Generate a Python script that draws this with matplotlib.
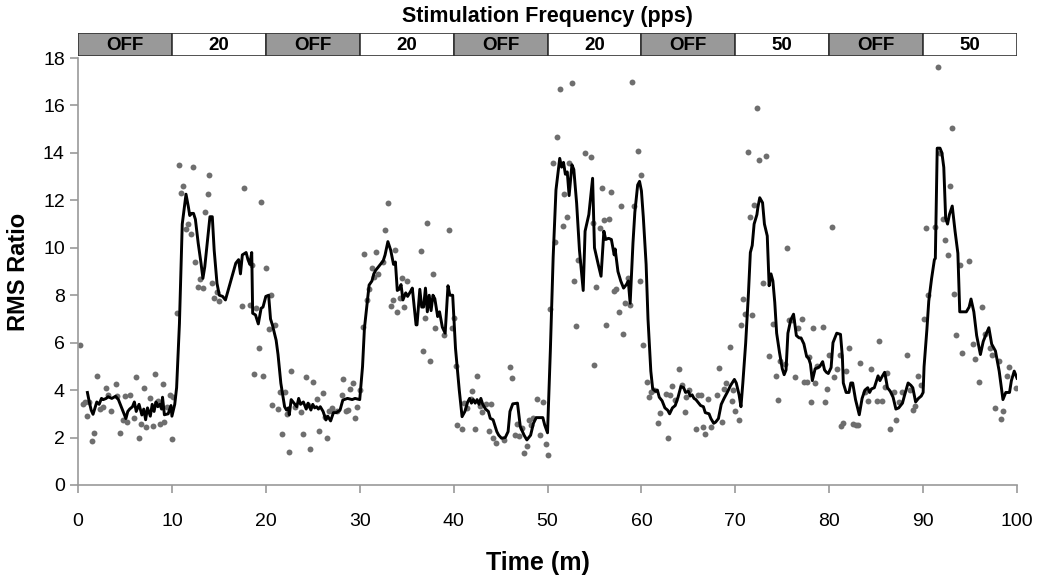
import numpy as np
import matplotlib
matplotlib.use("Agg")
import matplotlib.pyplot as plt
from matplotlib.patches import Rectangle

plt.rcParams['font.family'] = ['Liberation Sans Narrow', 'Liberation Sans', 'DejaVu Sans']

# stimulation blocks (10 min each)
block_labels = ["OFF", "20", "OFF", "20", "OFF", "20", "OFF", "50", "OFF", "50"]
block_starts = [0, 10, 20, 30, 40, 50, 60, 70, 80, 90]

# raw RMS ratio samples (gray dots)
dot_t = [0.2, 0.5, 0.75, 1.0, 1.2, 1.5, 1.7, 2.0, 2.3, 2.7, 3.0, 3.2, 3.5, 4.0, 4.2, 4.5, 4.8,
         5.0, 5.2, 5.5, 6.0, 6.2, 6.5, 6.7, 7.0, 7.2, 7.7, 8.0, 8.2, 8.5, 8.7, 9.0, 9.2, 9.5,
         9.8, 10.0, 10.1, 10.5, 10.75, 11.0, 11.2, 11.5, 11.75, 12.0, 12.2, 12.5, 12.75, 13.0,
         13.3, 13.5, 13.8, 14.0, 14.3, 14.5, 14.8, 15.0, 17.5, 17.7, 18.3, 18.5, 18.7, 19.0,
         19.3, 19.5, 19.7, 20.0, 20.3, 20.6, 20.7, 21.0, 21.3, 21.5, 21.75, 22.0, 22.3, 22.5,
         22.7, 23.1, 23.7, 24.0, 24.3, 24.5, 24.7, 25.0, 25.5, 25.7, 26.1, 26.3, 26.5, 26.7,
         27.0, 27.1, 27.6, 28.1, 28.25, 28.5, 28.8, 29.0, 29.25, 29.5, 29.75, 30.0, 30.3, 30.5,
         30.75, 31.0, 31.3, 31.5, 31.7, 32.0, 32.5, 32.7, 33.0, 33.3, 33.5, 33.75, 34.0, 34.3,
         34.5, 34.7, 35.0, 36.5, 36.7, 37.0, 37.2, 37.5, 37.8, 38.05, 39.0, 39.5, 39.8, 40.0,
         40.3, 40.4, 40.9, 41.1, 41.4, 41.8, 42.0, 42.3, 42.5, 42.8, 43.0, 43.5, 43.8, 44.0,
         44.2, 44.5, 45.4, 46.0, 46.25, 46.5, 46.8, 47.0, 47.25, 47.5, 47.8, 48.0, 48.2, 48.5,
         48.9, 49.2, 49.5, 49.8, 50.0, 50.3, 50.6, 50.8, 51.0, 51.3, 51.6, 51.8, 52.1, 52.3,
         52.6, 52.8, 53.0, 53.2, 54.0, 54.6, 54.8, 55.0, 55.2, 55.6, 55.8, 56.0, 56.2, 56.6,
         56.8, 57.1, 57.3, 57.6, 57.8, 58.0, 58.25, 58.6, 58.8, 59.0, 59.2, 59.6, 59.8, 60.0,
         60.2, 60.6, 60.8, 61.0, 61.3, 61.8, 62.0, 62.6, 62.8, 63.0, 63.3, 63.6, 64.0, 64.3,
         64.6, 64.8, 65.1, 65.8, 66.0, 66.3, 66.6, 66.8, 67.1, 67.4, 68.0, 68.3, 68.6, 68.8,
         69.0, 69.4, 69.6, 69.8, 70.0, 70.4, 70.6, 70.8, 71.0, 71.3, 71.6, 71.8, 72.0, 72.3,
         72.5, 73.0, 73.3, 73.6, 74.0, 74.3, 74.5, 74.8, 75.3, 75.5, 75.7, 76.0, 76.4, 76.7,
         77.1, 77.3, 77.6, 77.8, 78.1, 78.3, 78.5, 78.7, 79.3, 79.6, 79.8, 80.0, 80.3, 80.5,
         80.8, 81.1, 81.3, 81.5, 81.8, 82.1, 82.5, 82.8, 83.1, 83.3, 83.8, 84.1, 84.5, 85.1,
         85.3, 85.6, 85.9, 86.2, 86.5, 86.9, 87.1, 87.4, 87.8, 88.3, 88.6, 88.9, 89.1, 89.5,
         89.8, 90.1, 90.3, 90.5, 91.3, 91.55, 91.8, 92.1, 92.3, 92.6, 92.9, 93.1, 93.3, 93.5,
         93.9, 94.1, 94.9, 95.3, 95.5, 95.9, 96.3, 96.6, 97.1, 97.3, 97.7, 98.05, 98.3, 98.5,
         98.9, 99.1, 99.9]
dot_v = [5.9, 3.4, 3.5, 2.9, 3.5, 1.87, 2.2, 4.6, 3.2, 3.3, 4.1, 3.8, 3.1, 4.25, 3.77, 2.18, 2.74,
         3.77, 2.67, 3.8, 2.84, 4.54, 2.0, 2.57, 4.1, 2.43, 3.67, 2.5, 4.68, 3.53, 2.57, 4.25, 2.67, 3.3,
         3.8, 1.95, 3.7, 7.27, 13.5, 12.3, 12.6, 10.8, 11.0, 10.6, 13.4, 9.4, 8.36, 8.67,
         8.32, 11.5, 12.27, 13.06, 8.5, 7.87, 8.15, 7.74, 7.56, 12.5, 7.6, 9.27, 4.68, 7.45,
         5.79, 11.92, 4.6, 9.16, 6.58, 8.0, 3.37, 6.75, 3.2, 3.9, 2.14, 3.9, 2.98, 1.38,
         4.8, 3.3, 3.06, 2.15, 4.54, 3.37, 1.5, 4.36, 3.64, 2.29, 3.87, 2.85, 1.97, 3.1,
         3.23, 3.13, 3.1, 3.8, 4.45, 3.12, 3.17, 4.05, 4.29, 2.81, 3.27, 4.0, 6.65, 9.73,
         7.8, 8.26, 9.13, 8.77, 9.81, 8.9, 9.42, 10.74, 11.88, 7.56, 7.8, 9.89, 7.31, 7.9,
         8.71, 7.5, 8.59, 9.85, 5.64, 7.04, 11.05, 5.24, 8.9, 6.6, 6.32, 10.77, 6.6, 7.04,
         5.03, 2.53, 2.35, 3.47, 3.23, 3.63, 3.96, 2.38, 4.58, 3.35, 3.07, 3.4, 2.27, 3.42,
         2.0, 1.76, 1.9, 4.99, 4.5, 2.09, 2.55, 2.05, 2.39, 1.33, 1.64, 2.76, 2.53, 2.84,
         3.63, 2.11, 3.49, 1.73, 1.26, 7.41, 13.59, 10.23, 14.69, 16.7, 10.92, 12.27, 11.31, 13.59,
         16.93, 8.61, 6.69, 9.5, 13.98, 13.81, 11.03, 5.07, 8.36, 10.82, 12.5, 11.17, 6.73, 11.2,
         12.35, 8.19, 8.28, 7.31, 11.75, 6.38, 7.66, 8.71, 7.6, 17.0, 11.76, 14.1, 8.6, 13.06,
         5.9, 4.36, 3.72, 3.9, 4.0, 2.6, 3.02, 3.82, 1.97, 3.8, 4.19, 3.6, 4.89, 4.2,
         3.07, 3.72, 4.0, 2.35, 3.8, 3.8, 2.43, 2.14, 3.64, 2.43, 3.8, 4.92, 2.67, 4.05,
         4.29, 5.82, 3.53, 4.0, 3.1, 2.72, 6.73, 7.83, 7.21, 14.03, 11.31, 7.17, 11.79, 15.88,
         13.71, 8.53, 13.86, 5.44, 6.8, 4.6, 3.6, 5.24, 5.09, 9.99, 6.96, 6.96, 4.54, 6.6,
         7.0, 4.33, 4.33, 5.41, 3.5, 6.6, 4.29, 5.0, 6.65, 3.5, 4.05, 5.5, 10.86, 4.54,
         4.9, 5.48, 2.49, 2.6, 4.8, 5.79, 2.55, 2.53, 2.53, 5.13, 3.94, 3.52, 4.9, 3.55,
         6.08, 3.53, 4.12, 4.72, 2.36, 3.94, 2.72, 3.5, 3.9, 5.48, 4.0, 3.17, 3.35, 4.6,
         4.2, 7.01, 10.82, 8.0, 10.86, 17.64, 14.01, 11.2, 10.33, 9.68, 12.62, 15.04, 8.05, 6.34,
         9.27, 5.55, 9.46, 5.94, 5.33, 4.36, 7.52, 6.35, 5.79, 5.48, 3.26, 5.24, 2.78, 3.13,
         4.58, 4.99, 4.1]

# smoothed trace (black line)
line_t = [1.0, 1.2, 1.4, 1.6, 2.0, 2.25, 2.5, 2.7, 3.0, 3.2, 3.6, 4.0, 4.3, 4.6, 4.9, 5.1, 5.3,
          5.5, 5.8, 6.0, 6.2, 6.5, 6.8, 7.0, 7.2, 7.4, 7.7, 7.9, 8.1, 8.3, 8.5, 8.7, 8.9, 9.0,
          9.2, 9.6, 9.9, 10.0, 10.3, 10.5, 10.8, 11.1, 11.5, 11.75, 11.9, 12.1, 12.3, 12.5, 12.8,
          13.1, 13.3, 13.5, 13.8, 14.05, 14.3, 14.5, 14.8, 15.05, 15.4, 15.7, 16.2, 16.8, 17.1,
          17.3, 17.5, 17.9, 18.1, 18.3, 18.5, 18.6, 18.9, 19.2, 19.5, 19.7, 20.0, 20.3, 20.5,
          20.7, 21.1, 21.3, 21.6, 22.0, 22.2, 22.4, 22.5, 22.7, 23.0, 23.3, 23.5, 23.7, 24.0,
          24.3, 24.5, 24.8, 25.0, 25.2, 25.4, 25.6, 25.8, 26.1, 26.4, 26.6, 26.9, 27.2, 27.5,
          27.9, 28.2, 28.7, 29.2, 29.5, 30.0, 30.3, 30.5, 30.75, 31.0, 31.3, 31.5, 31.7, 32.2,
          32.5, 32.7, 33.0, 33.3, 33.6, 33.8, 34.0, 34.2, 34.4, 34.6, 34.9, 35.1, 35.4, 35.6,
          36.0, 36.1, 36.4, 36.6, 36.8, 37.0, 37.2, 37.4, 37.6, 37.8, 38.0, 38.3, 38.5, 38.8,
          39.1, 39.4, 39.6, 39.9, 40.2, 40.6, 40.9, 41.2, 41.5, 41.7, 41.9, 42.1, 42.3, 42.5,
          42.7, 42.9, 43.1, 43.4, 43.7, 43.9, 44.2, 44.6, 44.8, 45.1, 45.5, 45.8, 46.0, 46.3,
          46.8, 47.1, 47.5, 47.8, 48.2, 48.5, 48.8, 49.0, 49.5, 49.7, 50.0, 50.3, 50.6, 50.9,
          51.3, 51.5, 51.7, 51.9, 52.1, 52.3, 52.6, 52.8, 53.1, 53.4, 53.8, 54.0, 54.4, 54.8,
          55.0, 55.4, 55.7, 56.0, 56.2, 56.5, 56.8, 57.1, 57.2, 57.5, 57.8, 58.1, 58.4, 58.6,
          58.8, 59.1, 59.3, 59.6, 59.8, 60.0, 60.2, 60.5, 60.7, 61.0, 61.2, 61.5, 61.7, 61.9,
          62.2, 62.5, 62.8, 63.0, 63.3, 63.6, 63.9, 64.2, 64.5, 64.7, 65.0, 65.2, 65.4, 65.6,
          65.8, 66.0, 66.3, 66.6, 66.8, 67.2, 67.4, 67.7, 67.9, 68.2, 68.5, 68.8, 69.2, 69.5,
          69.9, 70.1, 70.4, 70.6, 70.8, 71.1, 71.4, 71.6, 71.8, 72.0, 72.3, 72.4, 72.6, 72.9,
          73.1, 73.4, 73.6, 73.8, 74.0, 74.2, 74.4, 74.7, 75.0, 75.2, 75.4, 75.6, 75.9, 76.2,
          76.3, 76.5, 76.8, 77.0, 77.3, 77.6, 77.8, 78.0, 78.2, 78.5, 78.8, 79.0, 79.3, 79.5,
          79.7, 79.9, 80.2, 80.4, 80.8, 81.2, 81.4, 81.5, 81.8, 82.1, 82.3, 82.5, 82.8, 83.2,
          83.5, 83.8, 84.1, 84.3, 84.5, 84.8, 85.2, 85.4, 85.6, 85.9, 86.0, 86.2, 86.5, 86.8,
          87.1, 87.4, 87.8, 88.0, 88.4, 88.7, 88.9, 89.2, 89.5, 89.8, 90.0, 90.1, 90.4, 90.6,
          90.9, 91.2, 91.3, 91.5, 91.8, 92.0, 92.2, 92.4, 92.6, 92.8, 93.1, 93.4, 93.7, 93.9,
          94.3, 94.6, 94.9, 95.1, 95.4, 95.7, 96.1, 96.4, 96.7, 97.0, 97.3, 97.7, 98.1, 98.5,
          98.8, 99.2, 99.4, 99.7, 100.0]
line_v = [3.9, 3.5, 3.16, 2.98, 3.5, 3.4, 3.65, 3.6, 3.65, 3.72, 3.65, 3.74, 3.6, 3.3, 3.0, 2.8, 3.1,
          3.2, 3.3, 3.5, 3.1, 3.4, 2.95, 3.2, 2.75, 3.25, 2.9, 3.4, 3.1, 3.5, 3.3, 3.4, 3.2, 3.7,
          2.96, 3.0, 3.35, 2.9, 3.4, 4.1, 6.8, 11.0, 12.26, 11.73, 11.36, 11.45, 11.45, 11.2, 10.19,
          9.35, 8.71, 9.2, 10.33, 11.31, 11.31, 9.9, 8.5, 8.0, 7.95, 7.8, 8.5, 9.35, 9.5,
          8.9, 9.7, 9.8, 9.5, 9.3, 9.8, 7.24, 7.17, 6.79, 7.45, 7.5, 7.95, 8.0, 7.0,
          6.75, 6.1, 5.5, 4.29, 3.3, 3.16, 3.25, 2.96, 3.6, 3.45, 3.3, 3.65, 3.4, 3.5,
          3.2, 3.45, 3.16, 3.4, 3.25, 3.3, 3.2, 3.3, 3.1, 2.74, 2.9, 2.7, 3.05, 3.05,
          3.15, 3.58, 3.65, 3.6, 3.65, 3.6, 4.99, 6.6, 7.52, 8.43, 8.6, 8.9, 9.05, 9.3,
          9.45, 9.7, 10.26, 9.9, 9.3, 9.4, 8.2, 8.25, 8.45, 7.8, 8.1, 7.95, 8.15, 8.3,
          6.75, 6.75, 8.25, 7.5, 7.5, 8.3, 7.3, 8.0, 7.35, 8.0, 7.85, 7.1, 7.3, 6.65,
          6.4, 8.4, 8.0, 8.0, 5.76, 4.0, 2.88, 3.1, 3.5, 3.65, 3.45, 3.6, 3.45, 3.6,
          3.4, 3.65, 3.4, 3.2, 3.1, 2.81, 2.75, 2.25, 2.1, 1.97, 2.0, 2.25, 3.1, 3.42,
          3.45, 2.46, 2.1, 1.9, 2.1, 2.6, 2.84, 2.84, 2.84, 2.53, 2.2, 5.65, 9.6, 12.44,
          13.77, 13.4, 13.6, 13.1, 13.2, 12.2, 13.5, 13.3, 11.88, 9.9, 8.2, 10.7, 11.4, 12.93,
          10.0, 9.3, 8.8, 10.7, 10.35, 10.4, 10.35, 9.7, 9.95, 9.0, 8.6, 8.3, 8.45, 8.6,
          7.66, 10.2, 11.5, 12.65, 12.8, 12.4, 11.3, 9.3, 7.0, 4.8, 4.05, 3.95, 4.0, 3.7,
          3.55, 3.25, 3.15, 3.0, 3.25, 3.35, 3.7, 4.15, 4.1, 3.9, 3.95, 3.75, 3.8, 3.65,
          3.6, 3.5, 3.35, 3.3, 3.05, 3.0, 2.8, 2.6, 2.65, 2.8, 3.4, 3.65, 3.95, 4.2,
          4.45, 4.3, 3.8, 3.3, 4.3, 5.97, 8.1, 9.8, 10.1, 11.0, 11.4, 11.7, 12.11, 11.9,
          11.0, 10.5, 8.4, 8.9, 8.6, 7.7, 6.4, 5.6, 4.9, 4.65, 4.85, 6.4, 6.96, 7.2,
          6.9, 6.3, 6.2, 6.2, 5.95, 5.41, 5.35, 5.1, 4.4, 4.9, 4.95, 5.0, 5.2, 4.85,
          4.75, 4.7, 4.95, 6.0, 6.4, 6.35, 5.4, 4.3, 3.9, 3.9, 4.3, 4.3, 3.6, 2.96,
          3.65, 4.0, 4.1, 3.9, 4.05, 4.1, 4.6, 4.4, 4.55, 4.75, 4.55, 4.1, 3.95, 3.7,
          3.2, 3.25, 3.45, 3.75, 4.3, 4.2, 4.1, 3.5, 3.65, 3.75, 3.9, 4.99, 6.55, 7.75,
          8.7, 9.5, 9.55, 14.2, 14.2, 14.0, 13.39, 11.24, 11.0, 11.4, 11.76, 10.7, 9.77, 7.3,
          7.3, 7.3, 7.5, 7.84, 7.3, 6.3, 5.5, 6.05, 6.35, 6.63, 5.94, 5.65, 4.8, 3.6,
          3.9, 3.9, 4.4, 4.8, 4.5]

fig = plt.figure(figsize=(10.5, 5.82), dpi=100)
ax = fig.add_axes([0.0743, 0.1667, 0.8943, 0.7336])

ax.scatter(dot_t, dot_v, s=18, color="#6e6e6e", zorder=2, linewidths=0)
ax.plot(line_t, line_v, color="black", lw=2.1, zorder=3)

ax.set_xlim(0, 100)
ax.set_ylim(0, 18)
ax.set_xticks(np.arange(0, 101, 10))
ax.set_yticks(np.arange(0, 19, 2))
for s in ["top", "right"]:
    ax.spines[s].set_visible(False)
for s in ["left", "bottom"]:
    ax.spines[s].set_color("#999999")
    ax.spines[s].set_linewidth(1.2)
ax.tick_params(axis="both", colors="#999999", labelcolor="black", labelsize=14,
               length=6, width=1.2, direction="out")
ax.tick_params(axis="x", pad=14)
ax.set_xlabel("Time (m)", fontsize=18, fontweight="bold", labelpad=14)
ax.set_ylabel("RMS Ratio", fontsize=17, fontweight="bold", labelpad=9,
              family=["Liberation Sans", "DejaVu Sans"])
ax.xaxis.set_label_coords(0.49, -0.155)

# stimulation band on top
band = fig.add_axes([0.0743, 0.9038, 0.8943, 0.0395])
band.set_xlim(0, 100)
band.set_ylim(0, 1)
band.axis("off")
for start, lab in zip(block_starts, block_labels):
    fc = "#999999" if lab == "OFF" else "white"
    band.add_patch(Rectangle((start, 0), 10, 1, facecolor=fc, edgecolor="#333333", lw=1.2))
    band.text(start + 5, 0.45, lab, ha="center", va="center", fontsize=13.5,
              fontweight="bold", family=["Liberation Sans", "DejaVu Sans"])

fig.text(0.521, 0.972, "Stimulation Frequency (pps)", ha="center", va="center",
         fontsize=15.5, fontweight="bold", family=["Liberation Sans", "DejaVu Sans"])

fig.savefig("out.png", dpi=100)
